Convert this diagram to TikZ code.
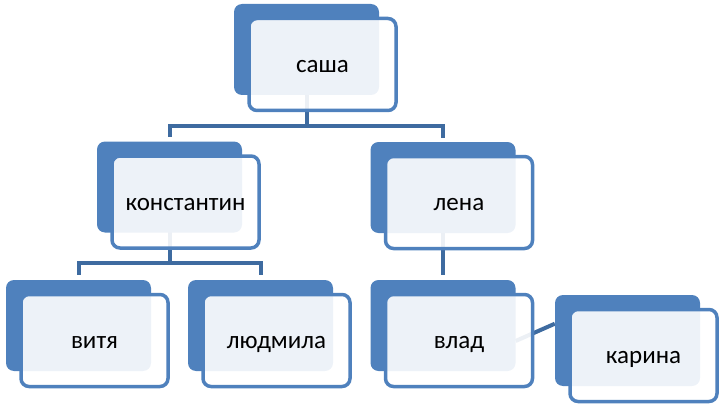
\documentclass[tikz,border=0pt]{standalone}
\usepackage{fontspec}
\setmainfont{Carlito}
\usepackage{tikz}
\pgfdeclarelayer{back}
\pgfsetlayers{back,main}
\definecolor{boxblue}{HTML}{4F81BD}
\definecolor{lineblue}{HTML}{3E6BA0}
\tikzset{
	backbox/.style={fill=boxblue, rounded corners=8pt, minimum width=145pt, minimum height=91pt, inner sep=0pt},
	frontbox/.style={draw=boxblue, line width=3.5pt, fill=white, fill opacity=0.9, text opacity=1, rounded corners=8pt, minimum width=147pt, minimum height=92pt, inner sep=0pt, text height=16pt, text depth=0pt, xshift=16pt, yshift=-15pt, font=\fontsize{25}{29}\selectfont},
	conn/.style={draw=lineblue, line width=4pt}
}
\begin{document}
\begin{tikzpicture}[x=1pt,y=-1pt]
		\useasboundingbox (0,0) rectangle (721,404);
		\node [backbox] (sashaB) at (306.5,49.5) {};
		\node [frontbox] (sashaF) at (sashaB) {саша};
		\node [backbox] (konB) at (169.5,187) {};
		\node [frontbox] (konF) at (konB) {константин};
		\node [backbox] (lenaB) at (443,187.5) {};
		\node [frontbox] (lenaF) at (lenaB) {лена};
		\node [backbox] (vityaB) at (78.5,325.5) {};
		\node [frontbox] (vityaF) at (vityaB) {витя};
		\node [backbox] (ludaB) at (260.5,325.5) {};
		\node [frontbox] (ludaF) at (ludaB) {людмила};
		\node [backbox] (vladB) at (443,325.5) {};
		\node [frontbox] (vladF) at (vladB) {влад};
		\node [backbox] (karB) at (627.5,340.5) {};
		\node [frontbox] (karF) at (karB) {карина};
		\coordinate (bar1) at (0,126);
		\coordinate (bar2) at (0,263);
		\begin{pgfonlayer}{back}
		\draw [conn] (sashaB.center) -- (sashaB |- bar1);
		\draw [conn, shorten >=4pt] (sashaB |- bar1) -| (konB.north);
		\draw [conn, shorten >=4pt] (sashaB |- bar1) -| (lenaB.north);
		\draw [conn] (konB.center) -- (konB |- bar2);
		\draw [conn, shorten >=5pt] (konB |- bar2) -| (vityaB.north);
		\draw [conn, shorten >=5pt] (konB |- bar2) -| (ludaB.north);
		\draw [conn, shorten >=5pt] (lenaB.center) -- (vladB.north);
		\draw [conn] (vladB.-12) -- (karB.167);
		\end{pgfonlayer}
\end{tikzpicture}
\end{document}
